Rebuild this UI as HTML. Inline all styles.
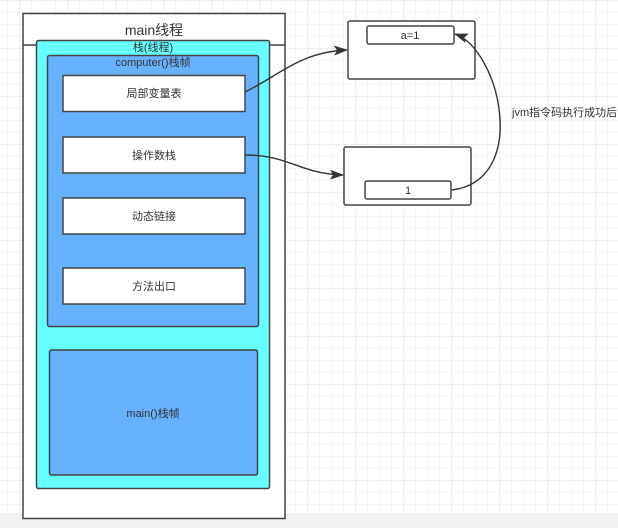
<!DOCTYPE html>
<html><head><meta charset="utf-8"><style>
html,body{margin:0;padding:0;background:#fff}
svg{display:block}
text{font-family:"Liberation Sans","Noto Sans CJK SC",sans-serif;fill:#333}
</style></head><body>
<svg width="618" height="528" viewBox="0 0 618 528" xmlns="http://www.w3.org/2000/svg">
<defs>
<pattern id="g" x="7" y="0" width="12" height="12" patternUnits="userSpaceOnUse">
<path d="M0 0V12M0 0H12" stroke="#ebebeb" stroke-width="1" fill="none"/>
</pattern>
<pattern id="G" x="67" y="0" width="48" height="48" patternUnits="userSpaceOnUse">
<path d="M0 0V48M0 0H48" stroke="#dedede" stroke-width="1" fill="none"/>
</pattern>
<marker id="a" markerWidth="14" markerHeight="10" refX="13" refY="5" orient="auto" markerUnits="userSpaceOnUse">
<path d="M0 0L14 5L0 10L3 5Z" fill="#333"/>
</marker>
</defs>
<rect width="618" height="513" fill="url(#g)"/>
<rect width="618" height="513" fill="url(#G)"/>
<rect y="513" width="618" height="15" fill="#f1f1f1"/>
<rect x="23" y="13.5" width="262" height="505" fill="#fff" stroke="#444" stroke-width="1.5"/>
<line x1="23" y1="45" x2="285" y2="45" stroke="#444" stroke-width="1.5"/>
<text x="154" y="35" font-size="14" text-anchor="middle">main线程</text>
<rect x="36.5" y="40.5" width="233" height="448" rx="2" fill="#66ffff" stroke="#444" stroke-width="1.5"/>
<text x="153" y="51" font-size="11" text-anchor="middle">栈(线程)</text>
<rect x="47.5" y="55.5" width="211" height="271" rx="2" fill="#66b2ff" stroke="#444" stroke-width="1.5"/>
<text x="153" y="66" font-size="11" text-anchor="middle">computer()栈帧</text>
<g fill="#fff" stroke="#444" stroke-width="1.5">
<rect x="63" y="75.5" width="182" height="36"/>
<rect x="63" y="137" width="182" height="36"/>
<rect x="63" y="198" width="182" height="36"/>
<rect x="63" y="268" width="182" height="36"/>
</g>
<g font-size="11" text-anchor="middle">
<text x="154" y="97">局部变量表</text>
<text x="154" y="159">操作数栈</text>
<text x="154" y="220">动态链接</text>
<text x="154" y="290">方法出口</text>
</g>
<rect x="49.5" y="350" width="208" height="125" rx="2" fill="#66b2ff" stroke="#444" stroke-width="1.5"/>
<text x="153" y="417" font-size="11" text-anchor="middle">main()栈帧</text>
<rect x="348" y="21" width="127" height="58" rx="2" fill="#fff" stroke="#444" stroke-width="1.5"/>
<rect x="367" y="26" width="87" height="18" rx="2" fill="#fff" stroke="#444" stroke-width="1.5"/>
<text x="410" y="39" font-size="11" text-anchor="middle">a=1</text>
<rect x="344" y="147" width="127" height="58" rx="2" fill="#fff" stroke="#444" stroke-width="1.5"/>
<rect x="365" y="181" width="86" height="18" rx="2" fill="#fff" stroke="#444" stroke-width="1.5"/>
<text x="408" y="194" font-size="11" text-anchor="middle">1</text>
<g fill="none" stroke="#333" stroke-width="1.4">
<path d="M245 92C280 75 300 52 347 50" marker-end="url(#a)"/>
<path d="M245 155C290 155 300 174 343 175" marker-end="url(#a)"/>
<path d="M452 190C530 180 500 50 455 34" marker-end="url(#a)"/>
</g>
<text x="512" y="116" font-size="11">jvm指令码执行成功后</text>
</svg>
</body></html>
